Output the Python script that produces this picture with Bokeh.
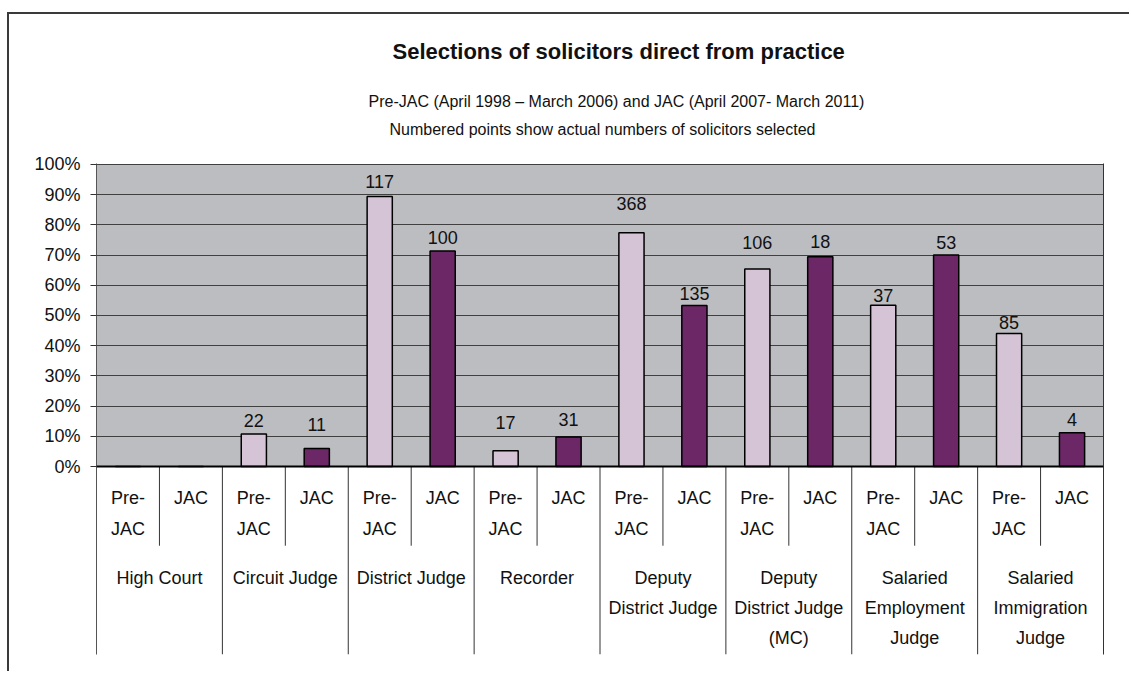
from bokeh.plotting import figure
from bokeh.models import (ColumnDataSource, BoxAnnotation, Span, Title, FixedTicker,
                          LinearAxis, Range1d)
from bokeh.embed import file_html
from bokeh.resources import INLINE
from bokeh.core.properties import value

# ---------------- data ----------------
groups = ["High Court", "Circuit Judge", "District Judge", "Recorder",
          "Deputy\nDistrict Judge", "Deputy\nDistrict Judge\n(MC)",
          "Salaried\nEmployment\nJudge", "Salaried\nImmigration\nJudge"]
periods = ["Pre-\nJAC", "JAC"]
pre_jac_pct = [0, 10.8, 89.4, 5.2, 77.4, 65.4, 53.4, 44.0]
jac_pct = [0, 6.0, 71.3, 9.8, 53.3, 69.4, 70.0, 11.2]
pre_jac_n = ["", "22", "117", "17", "368", "106", "37", "85"]
jac_n = ["", "11", "100", "31", "135", "18", "53", "4"]
y_ticks = [0, 10, 20, 30, 40, 50, 60, 70, 80, 90, 100]
y_tick_labels = ["0%", "10%", "20%", "30%", "40%", "50%", "60%", "70%", "80%", "90%", "100%"]

# label gaps above bars (px), as placed in the original
pre_gap = [0, 5, 7, 20, 21, 18, 2, 3]
jac_gap = [0, 16, 6, 9, 4, 7, 5, 5]
GAP_FIX = 8

# ---------------- styles ----------------
FONT = "Liberation Sans"
PRE_COLOR = "#d4c4d6"
JAC_COLOR = "#6c2767"
PLOT_BG = "#bcbdc1"
GRID = "#404040"
Y_BOTTOM = -62.2
INNER_SEP = -26.2

n = len(groups)
xs, tops, colors, labels, gaps = [], [], [], [], []
for i in range(n):
    xs += [2 * i + 0.5, 2 * i + 1.5]
    tops += [pre_jac_pct[i], jac_pct[i]]
    colors += [PRE_COLOR, JAC_COLOR]
    labels += [pre_jac_n[i], jac_n[i]]
    gaps += [-(pre_gap[i] + GAP_FIX), -(jac_gap[i] + GAP_FIX)]
bars = ColumnDataSource(dict(x=xs, top=tops, color=colors, label=labels, off=gaps))

p = figure(frame_width=1007, frame_height=491,
           x_range=Range1d(0, 2 * n), y_range=Range1d(Y_BOTTOM, 100.3),
           output_backend="svg", toolbar_location=None,
           min_border_left=87, min_border_right=26, min_border_bottom=17,
           min_border_top=149, background_fill_color="white",
           border_fill_color="white", outline_line_color=None)

# spacer between the subtitles and the plot area
p.add_layout(Title(text=" ", text_font=FONT, text_font_size="10px", standoff=10), "above")
# titles (added innermost first)
for txt, size, style, stand, off in [
        ("Numbered points show actual numbers of solicitors selected", "16px", "normal", 5, 293),
        ("Pre-JAC (April 1998 \u2013 March 2006) and JAC (April 2007- March 2011)", "16px", "normal", 13, 272),
        ("Selections of solicitors direct from practice", "22px", "bold", 42, 296)]:
    t = Title(text=txt, align="left", text_font=FONT, text_font_size=size,
              text_font_style=style, text_color="#111111", standoff=stand, offset=off)
    p.add_layout(t, "above")

# gray plotting area
p.add_layout(BoxAnnotation(bottom=0, top=100, fill_color=PLOT_BG, fill_alpha=1,
                           line_color=None, level="image"))

p.xaxis.visible = False
p.xgrid.visible = False
p.ygrid.ticker = FixedTicker(ticks=y_ticks)
p.ygrid.grid_line_color = GRID
p.ygrid.grid_line_width = 1

ya = p.yaxis[0]
ya.ticker = FixedTicker(ticks=y_ticks)
ya.major_label_overrides = {t: l for t, l in zip(y_ticks, y_tick_labels)}
ya.major_label_text_font = FONT
ya.major_label_text_font_size = "18px"
ya.major_label_text_color = "#111111"
ya.major_tick_out = 6
ya.major_tick_in = 0
ya.minor_tick_line_color = None
ya.major_tick_line_color = "#333333"
ya.axis_line_color = "#555555"
ya.major_label_standoff = 10

ra = LinearAxis(ticker=FixedTicker(ticks=[]), axis_line_color="#333333",
                major_tick_line_color=None, minor_tick_line_color=None,
                major_label_text_font_size="0px", major_label_standoff=0)
p.add_layout(ra, "right")

# bars
p.vbar(x="x", top="top", bottom=0, width=0.4, source=bars, fill_color="color",
       line_color="black", line_width=1.5)
p.add_layout(Span(location=0, dimension="width", line_color="black", line_width=2))

# count labels
p.text(x="x", y="top", text="label", source=bars, y_offset="off",
       text_align="center", text_baseline="alphabetic",
       text_font=value(FONT), text_font_size="18px", text_color="#111111")

# category table separators
inner_x = [2 * i + 1 for i in range(n)]
outer_x = [2 * i for i in range(1, n)]
p.segment(x0=inner_x, y0=[0] * len(inner_x), x1=inner_x, y1=[INNER_SEP] * len(inner_x),
          line_color="#333333", line_width=1)
p.segment(x0=outer_x, y0=[0] * len(outer_x), x1=outer_x, y1=[Y_BOTTOM] * len(outer_x),
          line_color="#333333", line_width=1)

# period labels (two lines)
for li in range(2):
    px, pt = [], []
    for i in range(n):
        for j, per in enumerate(periods):
            parts = per.split("\n")
            if li < len(parts):
                px.append(2 * i + j + 0.5)
                pt.append(parts[li])
    p.text(x=px, y=[0] * len(px), text=pt, y_offset=31 + 31 * li,
           text_align="center", text_baseline="middle",
           text_font=value(FONT), text_font_size="18px", text_color="#111111")

# group labels (up to three lines)
for li in range(3):
    gx, gt = [], []
    for i, g in enumerate(groups):
        parts = g.split("\n")
        if li < len(parts):
            gx.append(2 * i + 1)
            gt.append(parts[li])
    p.text(x=gx, y=[0] * len(gx), text=gt, y_offset=111 + 30 * li,
           text_align="center", text_baseline="middle",
           text_font=value(FONT), text_font_size="18px", text_color="#111111")

p.margin = (12, 0, 0, 7)
p.styles = {"border-top": "2px solid #3a3a3a", "border-left": "2px solid #3a3a3a"}

open("out.html", "w").write(file_html(p, INLINE))
